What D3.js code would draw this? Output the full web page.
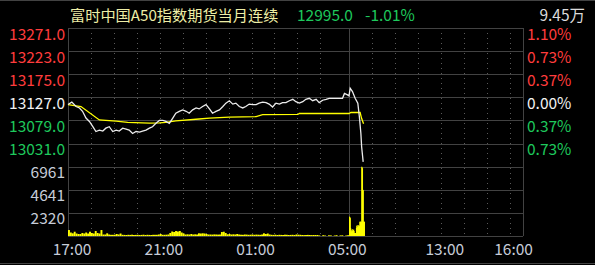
<!DOCTYPE html>
<html>
<head>
<meta charset="utf-8">
<script src="https://cdn.jsdelivr.net/npm/d3@7/dist/d3.min.js"></script>
<style>
    body { margin: 0; background: #000; }
    svg { display: block; font-family: "Noto Sans CJK SC", "Noto Sans", sans-serif; }
</style>
</head>
<body>
<div id="chart"></div>
<script>
// header
const title = '富时中国A50指数期货当月连续';
const lastPrice = '12995.0';
const lastChange = '-1.01%';
const totalVolume = '9.45万';

// axis ticks
const prevClose = 13127;
const priceTicks = [13271.0, 13223.0, 13175.0, 13127.0, 13079.0, 13031.0];
const pctTicks = ['1.10%', '0.73%', '0.37%', '0.00%', '0.37%', '0.73%'];
const volTicks = [6961, 4641, 2320];
const timeTicks = ['17:00', '21:00', '01:00', '05:00', '13:00', '16:00'];

// last price line
const priceTimes = ['17:00', '17:10', '17:21', '17:30', '17:38', '17:47', '17:56', '18:05', '18:13', '18:22',
    '18:31', '18:39', '18:48', '18:57', '19:06', '19:14', '19:23', '19:32', '19:40', '19:49',
    '19:58', '20:07', '20:15', '20:24', '20:33', '20:41', '20:50', '20:59', '21:08', '21:16',
    '21:25', '21:34', '21:42', '21:51', '22:00', '22:09', '22:17', '22:26', '22:35', '22:43',
    '22:52', '23:01', '23:10', '23:18', '23:27', '23:36', '23:45', '23:53', '00:02', '00:11',
    '00:19', '00:28', '00:37', '00:45', '00:54', '01:03', '01:12', '01:20', '01:29', '01:38',
    '01:46', '01:55', '02:04', '02:13', '02:21', '02:30', '02:39', '02:48', '02:56', '03:05',
    '03:14', '03:22', '03:31', '03:40', '03:49', '03:57', '04:06', '04:15', '04:23', '04:32',
    '04:41', '04:49', '04:58', '05:03', '05:11', '05:15', '09:03', '09:09', '09:16', '09:23',
    '09:27', '09:31', '09:33', '09:37'];
const priceValues = [13112, 13117, 13108, 13105, 13098, 13084, 13077, 13066, 13056, 13059,
    13057, 13063, 13066, 13056, 13059, 13057, 13063, 13061, 13059, 13052,
    13056, 13055, 13057, 13059, 13063, 13066, 13073, 13079, 13079, 13077,
    13073, 13084, 13094, 13098, 13101, 13098, 13094, 13101, 13105, 13103,
    13108, 13112, 13103, 13094, 13098, 13101, 13108, 13115, 13120, 13113,
    13115, 13108, 13105, 13108, 13113, 13112, 13112, 13115, 13117, 13116,
    13113, 13107, 13115, 13113, 13116, 13116, 13120, 13123, 13118, 13115,
    13118, 13123, 13125, 13120, 13123, 13116, 13121, 13123, 13125, 13125,
    13125, 13125, 13125, 13135, 13132, 13130, 13146, 13139, 13125, 13115,
    13087, 13052, 13024, 12993];

// average price line
const avgTimes = ['17:00', '17:34', '18:22', '18:39', '19:06', '19:36', '20:33', '20:59', '21:16', '21:42',
    '22:43', '23:10', '00:02', '01:12', '01:29', '03:01', '03:05', '05:15', '09:05', '09:29',
    '09:33', '09:38'];
const avgValues = [13112, 13108, 13080, 13079, 13077.5, 13075, 13073.5, 13074, 13075, 13078,
    13082, 13084, 13086, 13087, 13091, 13091.5, 13093.5, 13093.5, 13095.5, 13095.5,
    13083, 13072];

// volume, night session in 5 minute bins from 17:00
const nightVolume = [600, 350, 270, 430, 250, 200, 200, 300, 250, 350,
    250, 430, 300, 250, 500, 300, 250, 600, 150, 150,
    270, 150, 120, 120, 130, 200, 150, 250, 120, 110,
    100, 120, 110, 130, 100, 110, 120, 100, 110, 130,
    100, 120, 110, 100, 120, 120, 120, 150, 200, 120,
    120, 130, 150, 300, 450, 400, 500, 450, 500, 350,
    250, 150, 170, 150, 200, 150, 170, 150, 270, 250,
    270, 250, 200, 150, 150, 140, 160, 150, 140, 150,
    400, 430, 300, 170, 200, 150, 170, 150, 200, 150,
    130, 120, 150, 140, 120, 130, 150, 120, 140, 130,
    120, 150, 270, 200, 250, 150, 120, 110, 130, 100,
    120, 110, 100, 130, 120, 100, 110, 120, 100, 150,
    130, 120, 100, 90, 100, 110, 100, 90, 100, 100,
    100, 60, 0, 80, 50, 0, 70, 60, 0, 50,
    80, 0, 60, 70, 0, 50, 80];
// volume, day session by minute from 09:00
const dayVolume = [1947, 1900, 1800, 800, 500, 430, 600, 700, 500, 450,
    600, 650, 500, 300, 300, 300, 300, 300, 800, 1000,
    1100, 900, 800, 1000, 1100, 950, 1000, 1443, 1400, 1443,
    1443, 1400, 6961, 6900, 6800, 4641, 4600, 1443, 1400, 1443];

// map a clock time to the minute of the trading day (17:00-05:15, 09:00-16:35)
const tradeMinute = function (t) {
    let [h, m] = t.split(':').map(Number),
        mins = h * 60 + m;
    if (mins >= 17 * 60) return mins - 17 * 60;
    if (mins <= 5 * 60 + 15) return mins + 24 * 60 - 17 * 60;
    return 735 + mins - 9 * 60;
};

let width = 595,
    height = 265,
    plot = {left: 68, right: 523, top: 28, mid: 166.7, bottom: 236},
    red = '#ff3c3c',
    green = '#1ec85c',
    grey = '#c6ccd8',
    gridColor = '#424242';

let xScale = d3.scaleLinear()
        .domain([0, 1190])
        .range([plot.left, plot.right]),

    yScale = d3.scaleLinear()
        .domain([prevClose - 144, prevClose + 144])
        .range([plot.mid, plot.top]),

    vScale = d3.scaleLinear()
        .domain([0, 6961])
        .range([plot.bottom, plot.mid]),

    svg = d3.select('#chart')
        .append('svg')
        .attr('width', width)
        .attr('height', height);

svg.append('rect')
    .attr('width', width)
    .attr('height', height)
    .attr('fill', '#000');

// outer frame lines
svg.append('line')
    .attr('x1', 0).attr('x2', width).attr('y1', 0.5).attr('y2', 0.5)
    .attr('stroke', gridColor);
svg.append('line')
    .attr('x1', 0).attr('x2', width).attr('y1', 263.5).attr('y2', 263.5)
    .attr('stroke', gridColor);

// dotted hour lines
let hours = ['18:00', '19:00', '20:00', '21:00', '22:00', '23:00', '00:00', '01:00', '02:00', '03:00', '04:00',
    '10:00', '11:00', '12:00', '13:00', '14:00', '15:00', '16:00'];
svg.append('g')
    .selectAll('line')
    .data(hours).enter()
    .append('line')
    .attr('x1', d => Math.round(xScale(tradeMinute(d))) + 0.5)
    .attr('x2', d => Math.round(xScale(tradeMinute(d))) + 0.5)
    .attr('y1', plot.top)
    .attr('y2', plot.bottom)
    .attr('stroke', '#5a5a5a')
    .attr('stroke-dasharray', '1,4');

// horizontal grid lines
let priceLines = priceTicks.concat([prevClose - 144]),
    volLines = volTicks.slice(1);
svg.append('g')
    .selectAll('line')
    .data(priceLines.map(d => yScale(d)).concat(volLines.map(d => vScale(d))).concat([plot.bottom]))
    .enter()
    .append('line')
    .attr('x1', plot.left)
    .attr('x2', plot.right)
    .attr('y1', d => Math.round(d) + 0.5)
    .attr('y2', d => Math.round(d) + 0.5)
    .attr('stroke', gridColor);

// frame sides and session break
[plot.left, xScale(735), plot.right].forEach(x => {
    svg.append('line')
        .attr('x1', Math.round(x) + 0.5).attr('x2', Math.round(x) + 0.5)
        .attr('y1', plot.top).attr('y2', plot.bottom)
        .attr('stroke', gridColor);
});

// volume bars
let nightBars = nightVolume.map((v, i) => ({m: i * 5, w: 5, v: v})),
    dayBars = dayVolume.map((v, i) => ({m: 735 + i, w: 1, v: v}));
svg.append('g')
    .selectAll('rect')
    .data(nightBars.concat(dayBars)).enter()
    .append('rect')
    .attr('x', d => xScale(d.m))
    .attr('width', d => Math.max(1, xScale(d.m + d.w) - xScale(d.m)))
    .attr('y', d => vScale(d.v))
    .attr('height', d => plot.bottom - vScale(d.v))
    .attr('fill', '#ffff00');

// average line
let line = d3.line()
    .x(d => xScale(tradeMinute(d[0])))
    .y(d => yScale(d[1]));

svg.append('path')
    .datum(avgTimes.map((t, i) => [t, avgValues[i]]))
    .attr('d', line)
    .attr('fill', 'none')
    .attr('stroke', '#ffff00')
    .attr('stroke-width', 1.3);

// price line
svg.append('path')
    .datum(priceTimes.map((t, i) => [t, priceValues[i]]))
    .attr('d', line)
    .attr('fill', 'none')
    .attr('stroke', '#ececec')
    .attr('stroke-width', 1.3);

// left price labels
let tickColor = i => i < 3 ? red : (i === 3 ? '#f2f2f2' : green);
svg.append('g')
    .selectAll('text')
    .data(priceTicks).enter()
    .append('text')
    .attr('x', 65)
    .attr('y', d => yScale(d) + 11.5)
    .attr('text-anchor', 'end')
    .attr('font-size', 15.5)
    .attr('fill', (d, i) => tickColor(i))
    .text(d => d.toFixed(1));

// right percent labels
svg.append('g')
    .selectAll('text')
    .data(pctTicks).enter()
    .append('text')
    .attr('x', 527)
    .attr('y', (d, i) => yScale(priceTicks[i]) + 11.5)
    .attr('font-size', 15.5)
    .attr('fill', (d, i) => tickColor(i))
    .text(d => d);

// volume labels
svg.append('g')
    .selectAll('text')
    .data(volTicks).enter()
    .append('text')
    .attr('x', 65)
    .attr('y', d => vScale(d) + 11.5)
    .attr('text-anchor', 'end')
    .attr('font-size', 15.5)
    .attr('fill', grey)
    .text(d => d);

// time labels
svg.append('g')
    .selectAll('text')
    .data(timeTicks).enter()
    .append('text')
    .attr('x', d => xScale(tradeMinute(d)) + 4)
    .attr('y', 254.5)
    .attr('text-anchor', 'middle')
    .attr('font-size', 15.5)
    .attr('fill', grey)
    .text(d => d);

// header
svg.append('text')
    .attr('x', 70)
    .attr('y', 21)
    .attr('font-size', 15.2)
    .attr('fill', '#eeeea6')
    .text(title);
svg.append('text')
    .attr('x', 297)
    .attr('y', 21)
    .attr('font-size', 15.5)
    .attr('fill', green)
    .text(lastPrice);
svg.append('text')
    .attr('x', 365)
    .attr('y', 21)
    .attr('font-size', 15.5)
    .attr('fill', green)
    .text(lastChange);
svg.append('text')
    .attr('x', 585)
    .attr('y', 20.5)
    .attr('text-anchor', 'end')
    .attr('font-size', 15.5)
    .attr('fill', '#dcdcdc')
    .text(totalVolume);
</script>
</body>
</html>
